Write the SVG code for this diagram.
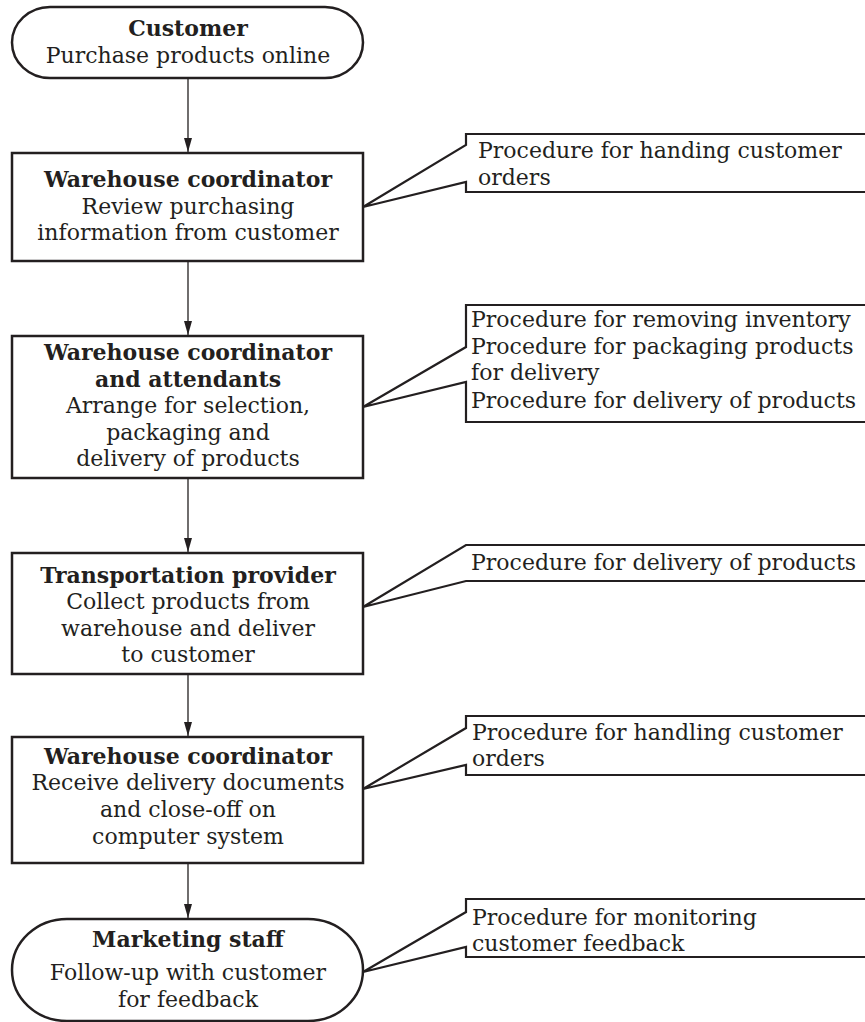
<svg xmlns="http://www.w3.org/2000/svg" width="865" height="1022" viewBox="0 0 865 1022">
<style>
  .node{fill:#fff;stroke:#231f20;stroke-width:2.5}
  .call{fill:#fff;stroke:#231f20;stroke-width:2.2;stroke-linejoin:miter}
  .t{font-family:"DejaVu Serif","Liberation Serif",serif;font-size:22px;fill:#231f20}
  .c{text-anchor:middle}
  .b{font-weight:bold}
  .arrow{stroke:#231f20;stroke-width:1.3;fill:none}
</style>
<defs>
  <marker id="ah" markerUnits="userSpaceOnUse" markerWidth="14" markerHeight="10" refX="14" refY="5" orient="auto">
    <path d="M0,1 L14,5 L0,9 z" fill="#231f20"/>
  </marker>
</defs>
<rect width="865" height="1022" fill="#fff"/>

<g id="connectors">
  <line class="arrow" x1="188" y1="78" x2="188" y2="152" marker-end="url(#ah)"/>
  <line class="arrow" x1="188" y1="261" x2="188" y2="335" marker-end="url(#ah)"/>
  <line class="arrow" x1="188" y1="478" x2="188" y2="552" marker-end="url(#ah)"/>
  <line class="arrow" x1="188" y1="674" x2="188" y2="736" marker-end="url(#ah)"/>
  <line class="arrow" x1="188" y1="863" x2="188" y2="918" marker-end="url(#ah)"/>
</g>

<g id="n-customer">
  <rect class="node" x="12" y="7" width="351" height="71" rx="38" ry="35.5"/>
  <text class="t c b" x="188" y="36">Customer</text>
  <text class="t c" x="188" y="63">Purchase products online</text>
</g>

<g id="n-review">
  <rect class="node" x="12" y="153" width="351" height="108"/>
  <text class="t c b" x="188" y="187">Warehouse coordinator</text>
  <text class="t c" x="188" y="214">Review purchasing</text>
  <text class="t c" x="188" y="240">information from customer</text>
</g>

<g id="n-arrange">
  <rect class="node" x="12" y="336" width="351" height="142"/>
  <text class="t c b" x="188" y="360">Warehouse coordinator</text>
  <text class="t c b" x="188" y="387">and attendants</text>
  <text class="t c" x="188" y="413">Arrange for selection,</text>
  <text class="t c" x="188" y="440">packaging and</text>
  <text class="t c" x="188" y="466">delivery of products</text>
</g>

<g id="n-transport">
  <rect class="node" x="12" y="553" width="351" height="121"/>
  <text class="t c b" x="188" y="583">Transportation provider</text>
  <text class="t c" x="188" y="609">Collect products from</text>
  <text class="t c" x="188" y="636">warehouse and deliver</text>
  <text class="t c" x="188" y="662">to customer</text>
</g>

<g id="n-receive">
  <rect class="node" x="12" y="737" width="351" height="126"/>
  <text class="t c b" x="188" y="764">Warehouse coordinator</text>
  <text class="t c" x="188" y="790">Receive delivery documents</text>
  <text class="t c" x="188" y="817">and close-off on</text>
  <text class="t c" x="188" y="844">computer system</text>
</g>

<g id="n-marketing">
  <rect class="node" x="12" y="919" width="351" height="102" rx="55" ry="51"/>
  <text class="t c b" x="188" y="947">Marketing staff</text>
  <text class="t c" x="188" y="980">Follow-up with customer</text>
  <text class="t c" x="188" y="1007">for feedback</text>
</g>

<g id="callout-1">
  <path class="call" d="M466,145 L466,134 L880,134 L880,192 L466,192 L466,182 L363,207 Z"/>
  <text class="t" x="478" y="158">Procedure for handing customer</text>
  <text class="t" x="478" y="185">orders</text>
</g>

<g id="callout-2">
  <path class="call" d="M466,347 L466,305 L880,305 L880,422 L466,422 L466,382 L363,407 Z"/>
  <text class="t" x="471" y="327">Procedure for removing inventory</text>
  <text class="t" x="471" y="354">Procedure for packaging products</text>
  <text class="t" x="471" y="380">for delivery</text>
  <text class="t" x="471" y="408">Procedure for delivery of products</text>
</g>

<g id="callout-3">
  <path class="call" d="M466,545 L880,545 L880,581 L466,581 L363,607 Z"/>
  <text class="t" x="471" y="570">Procedure for delivery of products</text>
</g>

<g id="callout-4">
  <path class="call" d="M466,728 L466,716 L880,716 L880,775 L466,775 L466,765 L363,789 Z"/>
  <text class="t" x="472" y="740">Procedure for handling customer</text>
  <text class="t" x="472" y="766">orders</text>
</g>

<g id="callout-5">
  <path class="call" d="M466,912 L466,899 L880,899 L880,957 L466,957 L466,947 L363,972 Z"/>
  <text class="t" x="472" y="925">Procedure for monitoring</text>
  <text class="t" x="472" y="951">customer feedback</text>
</g>
</svg>
